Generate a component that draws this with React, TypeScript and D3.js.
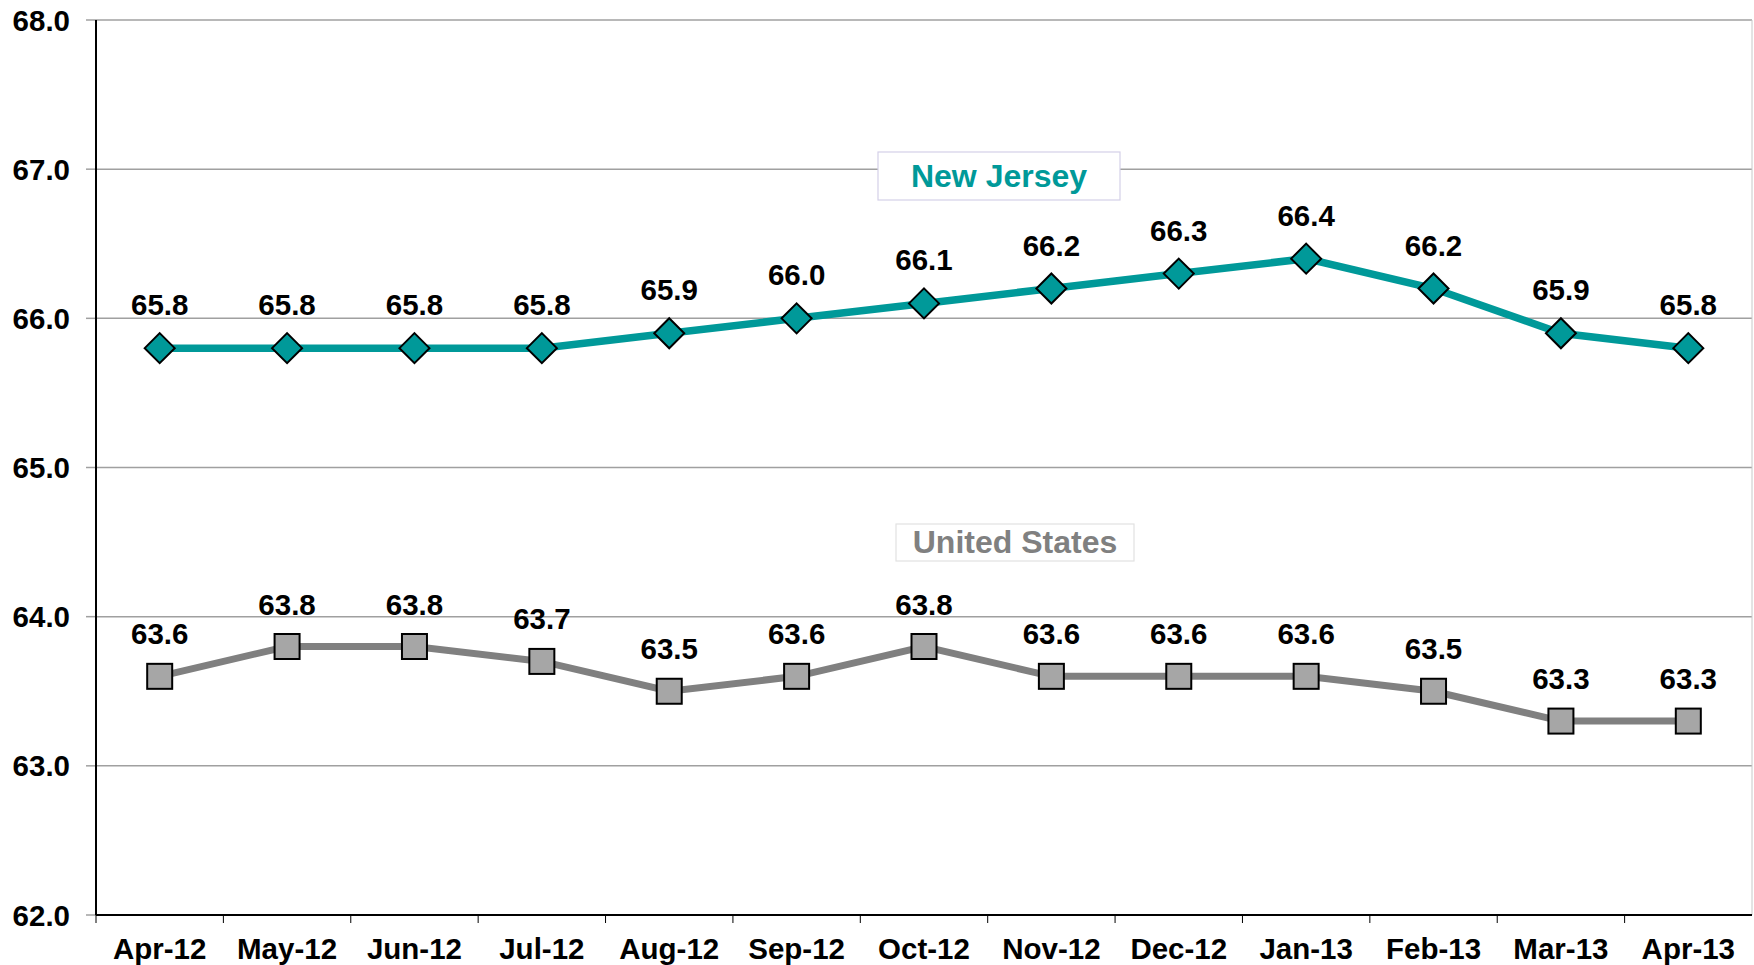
import React from "react";
import * as d3 from "d3";

const categories = ["Apr-12","May-12","Jun-12","Jul-12","Aug-12","Sep-12","Oct-12","Nov-12","Dec-12","Jan-13","Feb-13","Mar-13","Apr-13"];
const newJersey = [65.8,65.8,65.8,65.8,65.9,66.0,66.1,66.2,66.3,66.4,66.2,65.9,65.8];
const unitedStates = [63.6,63.8,63.8,63.7,63.5,63.6,63.8,63.6,63.6,63.6,63.5,63.3,63.3];
const yTicks = [62,63,64,65,66,67,68];

const W = 1754, H = 965;
const left = 96, right = 1752, top = 20, bottom = 915;
const FONT = "Liberation Sans, Arial, Helvetica, sans-serif";
const TEAL = "#009999";
const FS = 29.5;

export default function App() {
  const x = d3.scaleBand<string>().domain(categories).range([left, right]).paddingInner(0).paddingOuter(0);
  const y = d3.scaleLinear().domain([62, 68]).range([bottom, top]);
  const cx = (c: string) => (x(c) as number) + x.bandwidth() / 2;
  const line = d3.line<number>().x((_, i) => cx(categories[i])).y((v) => y(v));
  const boundaries = categories.map((c) => x(c) as number);

  return (
    <svg width={W} height={H} style={{ position: "absolute", left: 0, top: 0, background: "#fff" }} fontFamily={FONT}>
      <rect x={0} y={0} width={W} height={H} fill="#fff" />
      {yTicks.map((t) => (
        <g key={t}>
          <line x1={left} x2={right} y1={y(t)} y2={y(t)} stroke="#a0a0a0" strokeWidth={1.5} />
          <line x1={left - 10} x2={left} y1={y(t)} y2={y(t)} stroke="#a0a0a0" strokeWidth={1.5} />
          <text x={70} y={y(t)} dy="0.36em" textAnchor="end" fontSize={FS} fontWeight="bold" fill="#000">{t.toFixed(1)}</text>
        </g>
      ))}
      <line x1={right} x2={right} y1={top} y2={bottom} stroke="#c8c8c8" strokeWidth={1} />
      <line x1={left} x2={left} y1={top} y2={bottom} stroke="#000" strokeWidth={2} />
      <line x1={left} x2={right} y1={bottom} y2={bottom} stroke="#000" strokeWidth={2} />
      {boundaries.map((b, i) => (
        <line key={i} x1={b} x2={b} y1={bottom} y2={bottom + 8} stroke="#000" strokeWidth={1} />
      ))}
      {categories.map((c) => (
        <text key={c} x={cx(c)} y={959} textAnchor="middle" fontSize={FS} fontWeight="bold" fill="#000">{c}</text>
      ))}

      {/* legends */}
      <rect x={878} y={152} width={242} height={48} fill="#fff" stroke="#d4d0e8" strokeWidth={1.2} />
      <text x={999} y={187} textAnchor="middle" fontSize={32} fontWeight="bold" fill={TEAL}>New Jersey</text>
      <rect x={896} y={524} width={238} height={37} fill="#fff" stroke="#e2e2e2" strokeWidth={1.2} />
      <text x={1015} y={553} textAnchor="middle" fontSize={32} fontWeight="bold" fill="#808080">United States</text>

      {/* US series */}
      <path d={line(unitedStates) || ""} fill="none" stroke="#808080" strokeWidth={7} />
      {unitedStates.map((v, i) => (
        <rect key={i} x={cx(categories[i]) - 12.5} y={y(v) - 12.5} width={25} height={25} fill="#a6a6a6" stroke="#000" strokeWidth={2} />
      ))}
      {unitedStates.map((v, i) => (
        <text key={i} x={cx(categories[i])} y={y(v) - 32} textAnchor="middle" fontSize={FS} fontWeight="bold" fill="#000">{v.toFixed(1)}</text>
      ))}

      {/* NJ series */}
      <path d={line(newJersey) || ""} fill="none" stroke={TEAL} strokeWidth={7.5} />
      {newJersey.map((v, i) => {
        const px = cx(categories[i]), py = y(v), r = 15;
        return <path key={i} d={`M${px},${py - r}L${px + r},${py}L${px},${py + r}L${px - r},${py}Z`} fill={TEAL} stroke="#000" strokeWidth={2} />;
      })}
      {newJersey.map((v, i) => (
        <text key={i} x={cx(categories[i])} y={y(v) - 33} textAnchor="middle" fontSize={FS} fontWeight="bold" fill="#000">{v.toFixed(1)}</text>
      ))}
    </svg>
  );
}
